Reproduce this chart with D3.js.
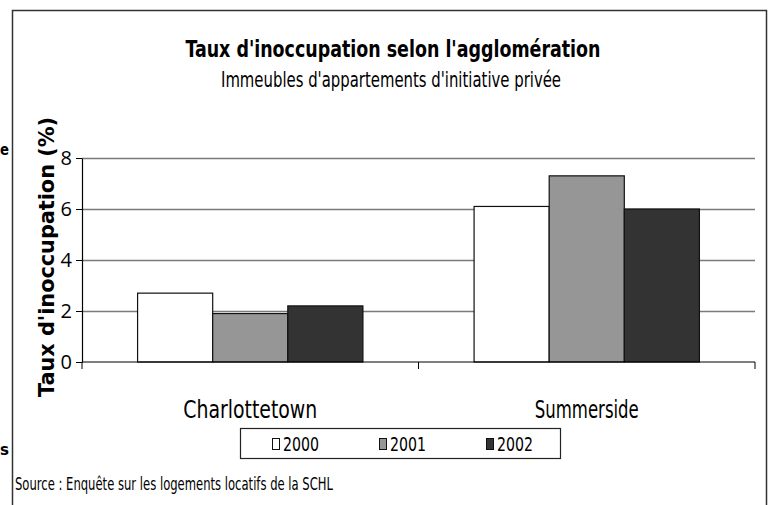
<!DOCTYPE html>
<html>
<head>
<meta charset="utf-8">
<script src="https://cdn.jsdelivr.net/npm/d3@7"></script>
<style>
  body { margin: 0; background: #fff; }
  svg { display: block; }
</style>
</head>
<body>
<div id="chart"></div>
<script>
// Data
const categories = ["Charlottetown", "Summerside"];
const years = ["2000", "2001", "2002"];
const values2000 = [2.7, 6.1];
const values2001 = [1.9, 7.3];
const values2002 = [2.2, 6.0];
const yTicks = [0, 2, 4, 6, 8];
const colors = ["#ffffff", "#969696", "#333333"];

const seriesValues = [values2000, values2001, values2002];
const data = categories.map((c, i) => ({
  category: c,
  values: years.map((y, j) => ({ year: y, value: seriesValues[j][i], idx: j }))
}));

const W = 771, H = 505;
const margin = { top: 158, right: 16, bottom: 143, left: 82 };
const width = W - margin.left - margin.right;
const height = H - margin.top - margin.bottom;
const narrow = "Liberation Sans Narrow, DejaVu Sans Condensed, sans-serif";

const svg = d3.select("#chart").append("svg")
  .attr("width", W)
  .attr("height", H);

// Outer frame (bottom runs off the picture)
svg.append("rect")
  .attr("x", 12.5).attr("y", 10.5)
  .attr("width", 754).attr("height", 520)
  .attr("fill", "none")
  .attr("stroke", "#333")
  .attr("stroke-width", 1.5);

// Letters left of the frame
svg.append("text").attr("x", 0).attr("y", 155)
  .attr("font-family", "DejaVu Sans").attr("font-size", 15).attr("font-weight", "bold")
  .attr("textLength", 9).attr("lengthAdjust", "spacingAndGlyphs").text("e");
svg.append("text").attr("x", 0).attr("y", 455)
  .attr("font-family", "DejaVu Sans").attr("font-size", 15).attr("font-weight", "bold")
  .attr("textLength", 9).attr("lengthAdjust", "spacingAndGlyphs").text("s");

// Titles
svg.append("text")
  .attr("x", 393).attr("y", 57)
  .attr("text-anchor", "middle")
  .attr("font-family", narrow)
  .attr("font-weight", "bold")
  .attr("font-size", 23)
  .attr("textLength", 415).attr("lengthAdjust", "spacingAndGlyphs")
  .text("Taux d'inoccupation selon l'agglomération");

svg.append("text")
  .attr("x", 391).attr("y", 87)
  .attr("text-anchor", "middle")
  .attr("font-family", narrow)
  .attr("font-size", 21)
  .attr("textLength", 340).attr("lengthAdjust", "spacingAndGlyphs")
  .text("Immeubles d'appartements d'initiative privée");

const g = svg.append("g")
  .attr("transform", `translate(${margin.left},${margin.top})`);

// Scales
const x0 = d3.scaleBand()
  .domain(categories)
  .range([0, width])
  .paddingInner(0)
  .paddingOuter(0);

const x1 = d3.scaleBand()
  .domain(years)
  .range([0, x0.bandwidth()])
  .paddingInner(0)
  .paddingOuter(0.74);

const y = d3.scaleLinear()
  .domain([0, 8])
  .range([height, 0]);

// Gridlines
g.selectAll(".grid")
  .data(yTicks.filter(d => d > 0))
  .enter()
  .append("line")
  .attr("x1", 0).attr("x2", width)
  .attr("y1", d => Math.round(y(d)) + 0.5)
  .attr("y2", d => Math.round(y(d)) + 0.5)
  .attr("stroke", "#7a7a7a")
  .attr("stroke-width", 1.3);

// Bars
const groups = g.selectAll(".cat")
  .data(data)
  .enter()
  .append("g")
  .attr("transform", d => `translate(${x0(d.category)},0)`);

groups.selectAll("rect")
  .data(d => d.values)
  .enter()
  .append("rect")
  .attr("x", d => x1(d.year))
  .attr("y", d => y(d.value))
  .attr("width", x1.bandwidth())
  .attr("height", d => height - y(d.value))
  .attr("fill", d => colors[d.idx])
  .attr("stroke", "#111")
  .attr("stroke-width", 1.2);

// Y axis
const yAxis = g.append("g")
  .call(d3.axisLeft(y).tickValues(yTicks).tickSize(6).tickSizeOuter(0).tickPadding(4));
yAxis.select(".domain").attr("stroke", "#000").attr("stroke-width", 1.2);
yAxis.selectAll(".tick line").attr("stroke", "#000");
yAxis.selectAll(".tick text")
  .attr("font-family", "Open Sans, sans-serif")
  .attr("font-size", 20)
  .attr("fill", "#000");

// X axis: line with ticks at category boundaries
const xAxis = g.append("g")
  .attr("transform", `translate(0,${height})`);
xAxis.append("line")
  .attr("x1", 0).attr("x2", width)
  .attr("y1", 0).attr("y2", 0)
  .attr("stroke", "#000").attr("stroke-width", 1.2);
xAxis.selectAll(".xt")
  .data([0].concat(categories.map(c => x0(c) + x0.bandwidth())))
  .enter()
  .append("line")
  .attr("x1", d => d).attr("x2", d => d)
  .attr("y1", 0).attr("y2", 7)
  .attr("stroke", "#000");

xAxis.selectAll(".xl")
  .data(categories)
  .enter()
  .append("text")
  .attr("x", d => x0(d) + x0.bandwidth() / 2)
  .attr("y", 56)
  .attr("text-anchor", "middle")
  .attr("font-family", narrow)
  .attr("font-size", 24)
  .attr("textLength", d => d === "Charlottetown" ? 134 : 104)
  .attr("lengthAdjust", "spacingAndGlyphs")
  .text(d => d);

// Y axis title
svg.append("text")
  .attr("transform", "translate(54,257) rotate(-90)")
  .attr("text-anchor", "middle")
  .attr("font-family", "DejaVu Sans, sans-serif")
  .attr("font-weight", "bold")
  .attr("font-size", 21)
  .attr("textLength", 280).attr("lengthAdjust", "spacingAndGlyphs")
  .text("Taux d'inoccupation (%)");

// Legend
const legend = svg.append("g").attr("transform", "translate(240,428)");
legend.append("rect")
  .attr("x", 0.5).attr("y", 0.5)
  .attr("width", 320).attr("height", 30)
  .attr("fill", "#fff")
  .attr("stroke", "#222")
  .attr("stroke-width", 1.2);

const li = legend.selectAll(".li")
  .data(years)
  .enter()
  .append("g")
  .attr("transform", (d, i) => `translate(${32 + i * 107},0)`);
li.append("rect")
  .attr("x", 0.5).attr("y", 10.5)
  .attr("width", 7).attr("height", 11)
  .attr("fill", (d, i) => colors[i])
  .attr("stroke", "#111");
li.append("text")
  .attr("x", 11).attr("y", 23)
  .attr("font-family", narrow)
  .attr("font-size", 19)
  .attr("textLength", 36).attr("lengthAdjust", "spacingAndGlyphs")
  .text(d => d);

// Source
svg.append("text")
  .attr("x", 15).attr("y", 490)
  .attr("font-family", narrow)
  .attr("font-size", 17)
  .attr("textLength", 318).attr("lengthAdjust", "spacingAndGlyphs")
  .text("Source : Enquête sur les logements locatifs de la SCHL");
</script>
</body>
</html>
